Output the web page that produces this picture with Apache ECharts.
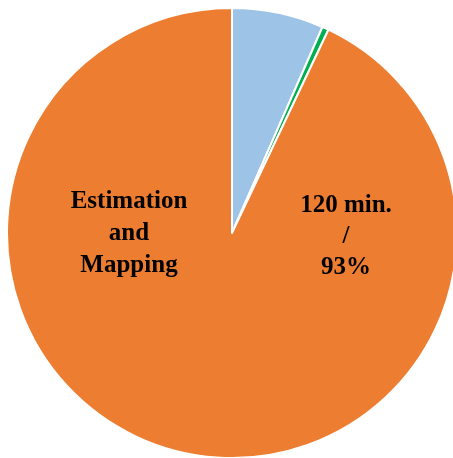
<!DOCTYPE html>
<html><head><meta charset="utf-8">
<script src="https://cdn.jsdelivr.net/npm/echarts@6/dist/echarts.min.js"></script>
<style>html,body{margin:0;padding:0;background:#fff}#c{width:453px;height:458px}</style>
</head><body><div id="c"></div>
<script>
const categories = ['Other task A', 'Other task B', 'Estimation and Mapping'];
const minutes = [8.5, 0.6, 120];
const colors = ['#9DC3E6', '#00B050', '#ED7D31'];
const mainLabel = ['Estimation', 'and', 'Mapping'];
const valueLabel = ['120 min.', '/', '93%'];

const chart = echarts.init(document.getElementById('c'));
function lines(arr, cx, cy, lh) {
  return arr.map((t, i) => ({
    type: 'text', z: 100,
    x: cx, y: cy + (i - (arr.length - 1) / 2) * lh,
    style: {text: t, fontFamily: 'Liberation Serif', fontWeight: 'bold', fontSize: 25, fill: '#000', align: 'center', verticalAlign: 'middle'}
  }));
}
chart.setOption({
  animation: false,
  series: [{
    type: 'pie',
    center: [232, 233],
    radius: [0, 225],
    startAngle: 90,
    clockwise: true,
    label: {show: false},
    labelLine: {show: false},
    itemStyle: {borderColor: '#fff', borderWidth: 2},
    data: categories.map((c, i) => ({name: c, value: minutes[i], itemStyle: {color: colors[i]}}))
  }],
  graphic: lines(mainLabel, 129, 234, 32).concat(lines(valueLabel, 346, 237, 31))
});
</script></body></html>
